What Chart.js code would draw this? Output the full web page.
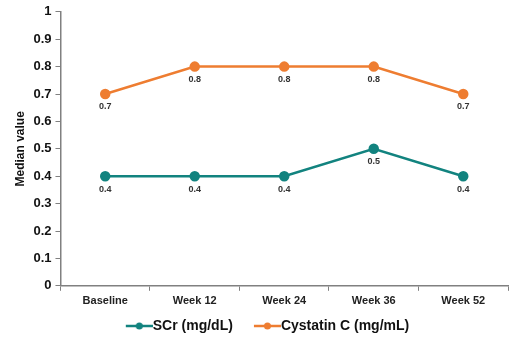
<!DOCTYPE html>
<html>
<head>
<meta charset="utf-8">
<script src="https://cdn.jsdelivr.net/npm/chart.js@4"></script>
<style>
  html, body { margin: 0; padding: 0; background: #fff; }
  #wrap { width: 520px; height: 345px; }
</style>
</head>
<body>
<div id="wrap"><canvas id="medianChart"></canvas></div>
<script>
// --- datos del gráfico ---
const semanas = ['Baseline', 'Week 12', 'Week 24', 'Week 36', 'Week 52'];
const scrValores = [0.4, 0.4, 0.4, 0.5, 0.4];
const cistatinaValores = [0.7, 0.8, 0.8, 0.8, 0.7];
const nombresSeries = ['SCr (mg/dL)', 'Cystatin C (mg/mL)'];

const colorScr = '#12837f';
const colorCis = '#ee7d31';
const fuente = '"Liberation Sans", Arial, sans-serif';

// icono de leyenda: línea con punto, con hueco transparente a la izquierda
function iconoLeyenda(color) {
    const c = document.createElement('canvas');
    c.width = 48; c.height = 10;
    const g = c.getContext('2d');
    g.strokeStyle = color;
    g.lineWidth = 2.5;
    g.beginPath(); g.moveTo(21, 5); g.lineTo(48, 5); g.stroke();
    g.fillStyle = color;
    g.beginPath(); g.arc(34.5, 5, 3.5, 0, Math.PI * 2); g.fill();
    return c;
}

// etiquetas de valor debajo de cada punto
const etiquetasValores = {
    id: 'etiquetasValores',
    afterDatasetsDraw(chart) {
        const ctx = chart.ctx;
        ctx.save();
        ctx.font = 'bold 9px ' + fuente;
        ctx.fillStyle = '#333';
        ctx.textAlign = 'center';
        ctx.textBaseline = 'middle';
        chart.data.datasets.forEach((ds, i) => {
            chart.getDatasetMeta(i).data.forEach((pt, j) => {
                ctx.fillText(ds.data[j].toFixed(1), pt.x, pt.y + 13);
            });
        });
        ctx.restore();
    }
};

new Chart(document.getElementById('medianChart').getContext('2d'), {
    type: 'line',
    data: {
        labels: semanas,
        datasets: [{
            label: nombresSeries[0],
            data: scrValores,
            borderColor: colorScr,
            backgroundColor: colorScr,
            borderWidth: 2.5,
            pointRadius: 4,
            pointHoverRadius: 4,
            pointStyle: 'circle',
            tension: 0
        }, {
            label: nombresSeries[1],
            data: cistatinaValores,
            borderColor: colorCis,
            backgroundColor: colorCis,
            borderWidth: 2.5,
            pointRadius: 4,
            pointHoverRadius: 4,
            pointStyle: 'circle',
            tension: 0
        }]
    },
    options: {
        responsive: true,
        maintainAspectRatio: false,
        animation: false,
        layout: { padding: { left: 13, right: 12, top: 8, bottom: 2 } },
        scales: {
            x: {
                offset: true,
                grid: {
                    offset: true,
                    drawOnChartArea: false,
                    drawTicks: true,
                    tickLength: 5,
                    color: '#808080'
                },
                border: { color: '#808080', width: 1.5 },
                ticks: {
                    color: '#222',
                    font: { family: fuente, size: 11, weight: 'bold' },
                    padding: 4,
                    maxRotation: 0
                }
            },
            y: {
                min: 0,
                max: 1,
                grid: {
                    drawOnChartArea: false,
                    drawTicks: true,
                    tickLength: 5,
                    color: '#808080'
                },
                border: { color: '#808080', width: 1.5 },
                ticks: {
                    stepSize: 0.1,
                    color: '#111',
                    font: { family: fuente, size: 13, weight: 'bold' },
                    padding: 4,
                    callback: v => Math.round(v * 10) / 10
                },
                title: {
                    display: true,
                    text: 'Median value',
                    color: '#111',
                    font: { family: fuente, size: 12, weight: 'bold' },
                    padding: { top: 0, bottom: 2 }
                }
            }
        },
        plugins: {
            legend: {
                position: 'bottom',
                labels: {
                    usePointStyle: true,
                    pointStyleWidth: 34,
                    generateLabels: chart => chart.data.datasets.map((ds, i) => ({
                        text: ds.label,
                        pointStyle: iconoLeyenda(ds.borderColor),
                        fillStyle: ds.borderColor,
                        strokeStyle: ds.borderColor,
                        lineWidth: 0,
                        datasetIndex: i,
                        fontColor: '#111'
                    })),
                    color: '#111',
                    font: { family: fuente, size: 14, weight: 'bold' },
                    padding: 7
                }
            },
            tooltip: { enabled: false }
        }
    },
    plugins: [etiquetasValores]
});
</script>
</body>
</html>
